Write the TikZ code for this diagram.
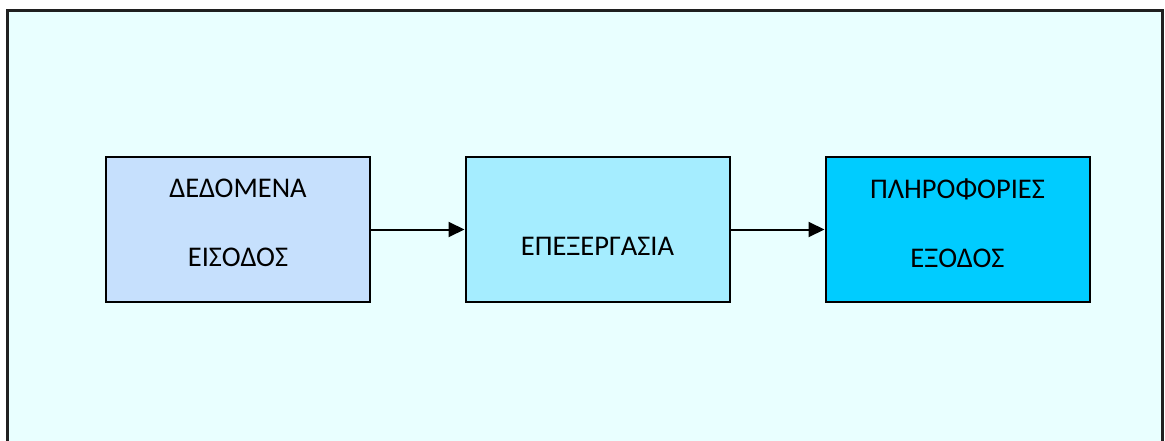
\documentclass[tikz,border=0pt]{standalone}
\usepackage{fontspec}
\setmainfont{Carlito}
\usetikzlibrary{arrows.meta}
\definecolor{bgcyan}{HTML}{E9FFFF}
\definecolor{boxA}{HTML}{C6E0FD}
\definecolor{boxB}{HTML}{A5EDFF}
\definecolor{boxC}{HTML}{00CCFF}
\definecolor{framegray}{HTML}{202020}
\tikzset{
  procbox/.style={draw=black, line width=2pt, minimum width=264pt, minimum height=144pt, inner sep=0pt, anchor=north west},
  lbl/.style={font=\fontsize{28.5}{28.5}\selectfont, inner sep=0pt, text=black},
  flow/.style={line width=2pt, -{Triangle[length=16pt,width=15pt]}}
}
\begin{document}
\begin{tikzpicture}[x=1pt,y=-1pt]
\useasboundingbox (0,0) rectangle (1165,441);
\fill[white] (0,0) rectangle (1165,441);
\begin{scope}
\clip (0,0) rectangle (1165,441);
\draw[fill=bgcyan, draw=framegray, line width=3pt] (7,11) rectangle (1162,470);
\end{scope}
\node[procbox, fill=boxA] (in) at (105,156.5) {};
\node[procbox, fill=boxB] (proc) at (464.5,156.5) {};
\node[procbox, fill=boxC] (out) at (824.5,156.5) {};
\node[lbl] (inA) at ([yshift=41pt]in.center) {ΔΕΔΟΜΕΝΑ};
\node[lbl] (inB) at ([yshift=-28pt]in.center) {ΕΙΣΟΔΟΣ};
\node[lbl] (procA) at ([yshift=-17pt]proc.center) {ΕΠΕΞΕΡΓΑΣΙΑ};
\node[lbl] (outA) at ([yshift=40pt]out.center) {ΠΛΗΡΟΦΟΡΙΕΣ};
\node[lbl] (outB) at ([yshift=-29pt]out.center) {ΕΞΟΔΟΣ};
\draw[flow] (in.east) -- (proc.west);
\draw[flow] (proc.east) -- (out.west);
\end{tikzpicture}
\end{document}
